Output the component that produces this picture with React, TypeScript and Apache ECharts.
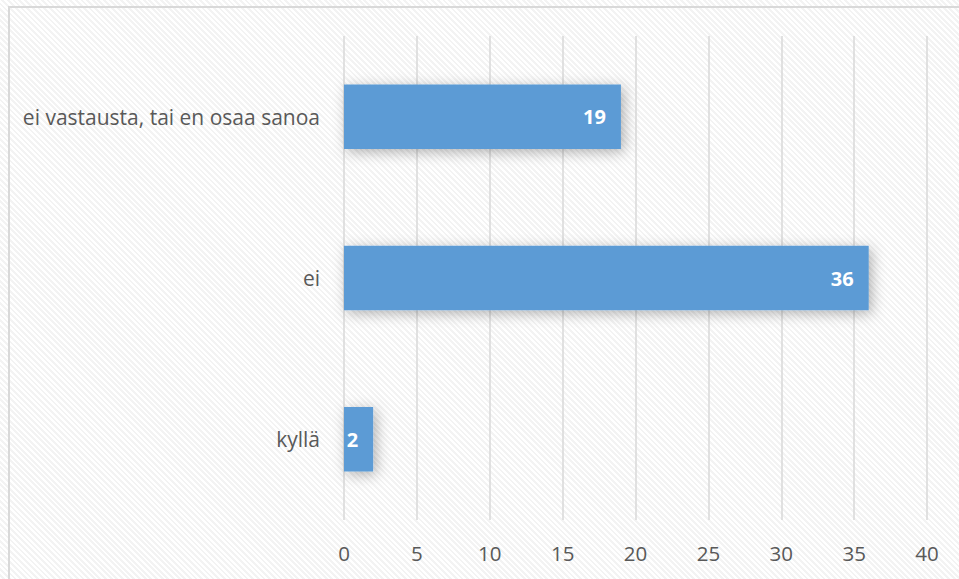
import React, { useEffect, useRef } from "react";
import * as echarts from "echarts";

const categories = ["kyllä", "ei", "ei vastausta, tai en osaa sanoa"];
const values = [2, 36, 19];
const xTicks = { min: 0, max: 40, interval: 5 };

export default function App() {
  const ref = useRef<HTMLDivElement>(null);
  useEffect(() => {
    if (!ref.current) return;
    const chart = echarts.init(ref.current, null, { renderer: "svg" });
    chart.setOption({
      animation: false,
      backgroundColor: "transparent",
      textStyle: { fontFamily: "'Open Sans', 'Noto Sans', sans-serif" },
      grid: { left: 344, right: 32, top: 36, bottom: 59, containLabel: false },
      xAxis: {
        type: "value",
        min: xTicks.min,
        max: xTicks.max,
        interval: xTicks.interval,
        axisLine: { show: false },
        axisTick: { show: false },
        splitLine: { show: true, lineStyle: { color: "#d9d9d9", width: 1.5 } },
        axisLabel: { color: "#595959", fontSize: 20.5, margin: 22 },
      },
      yAxis: {
        type: "category",
        data: categories,
        axisLine: { show: false },
        axisTick: { show: false },
        axisLabel: { color: "#595959", fontSize: 21, margin: 24 },
      },
      series: [
        {
          type: "bar",
          data: values,
          barCategoryGap: "60%",
          itemStyle: {
            color: "#5b9bd5",
            shadowBlur: 14,
            shadowColor: "rgba(0,0,0,0.3)",
            shadowOffsetX: 3,
            shadowOffsetY: 3,
          },
          label: {
            show: true,
            position: "insideRight",
            color: "#ffffff",
            fontWeight: "bold",
            fontSize: 20,
            distance: 15,
          },
        },
      ],
    });
    return () => chart.dispose();
  }, []);
  return (
    <div
      style={{
        position: "absolute",
        left: 0,
        top: 0,
        width: 959,
        height: 579,
        background:
          "repeating-linear-gradient(45deg, #ffffff 0px, #ffffff 2px, #f3f3f3 2px, #f3f3f3 4px)",
      }}
    >
      <div
        style={{
          position: "absolute",
          left: 8,
          top: 6,
          width: 960,
          height: 580,
          border: "2px solid #d9d9d9",
          boxSizing: "border-box",
        }}
      />
      <div ref={ref} style={{ position: "absolute", left: 0, top: 0, width: 959, height: 579 }} />
    </div>
  );
}
